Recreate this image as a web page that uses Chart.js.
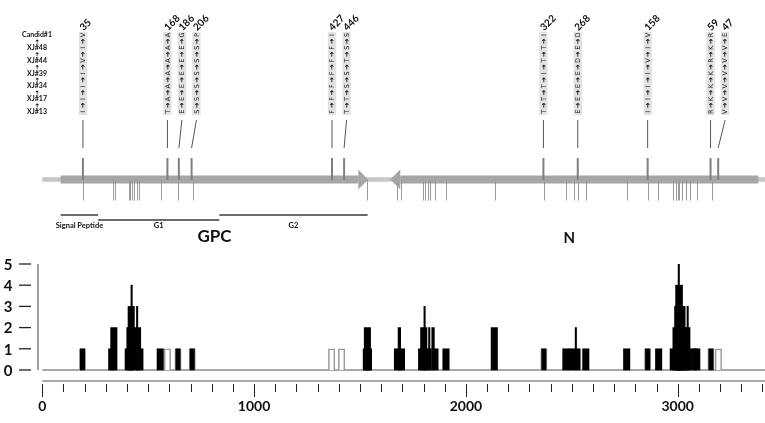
<!DOCTYPE html>
<html>
<head>
<meta charset="utf-8">
<script src="https://cdn.jsdelivr.net/npm/chart.js@4.4.1/dist/chart.umd.min.js"></script>
<style>
  html, body { margin: 0; padding: 0; background: #fff; }
</style>
</head>
<body>
<canvas id="myCanvas" width="765" height="423"></canvas>
<script>
// passage history, top to bottom
var strains = ['Candid#1', 'XJ#48', 'XJ#44', 'XJ#39', 'XJ#34', 'XJ#17', 'XJ#13'];

// S segment layout (nt)
var gpcSpan = [87, 1539];
var nSpan = [1643, 3381];
var gpcAa1 = 87;     // nt of GPC codon 1 (forward)
var nAa1 = 3332;     // nt of N codon 1 (reverse)
var domainNames = ['Signal Peptide', 'G1', 'G2'];
var domainFrom = [87, 264, 836];
var domainTo = [264, 836, 1536];

// labelled amino acid changes, residues from XJ#13 up to Candid#1
var gpcSites = [35, 168, 186, 206, 427, 446];
var gpcChanges = ['IIIIVIV', 'TAAAAAA', 'EEEEEEG', 'SSSSSSP', 'FFFFFFI', 'TTSSTSS'];
var nSites = [322, 268, 158, 59, 47];
var nChanges = ['TTTITTI', 'EEEEDED', 'IIIIVIV', 'RKKKRKR', 'VVVVVVE'];

// other mutation positions marked under the genes (nt)
var otherSites = [191, 335, 342, 408, 414, 422, 433, 446, 458, 559, 639, 713, 1532,
  1673, 1692, 1796, 1807, 1820, 1831, 1854, 1906, 2137, 2369, 2471, 2510, 2529, 2566,
  2759, 2861, 2909, 2979, 2991, 3000, 3008, 3019, 3039, 3058, 3090, 3161];

// histogram: number of isolates carrying a change at each position
var colPos = [328, 338, 406, 414, 420, 450, 461, 557, 1530, 1535, 1540, 1677, 1696, 1791, 1801,
  1821, 1854, 1906, 2134, 2472, 2501, 2566, 2759, 2910, 2979, 2992, 3000, 3005, 3011, 3020,
  3023, 3043, 3044, 3075, 3090];
var colCount = [1, 2, 1, 2, 3, 2, 1, 1, 1, 2, 1, 1, 1, 1, 2,
  1, 1, 1, 2, 1, 1, 1, 1, 1, 1, 2, 3, 4, 1, 3,
  2, 2, 1, 1, 1];
var innerPos = [190, 641, 708, 2368, 2528, 2858, 3157];
var innerCount = [1, 1, 1, 1, 1, 1, 1];
var openPos = [190, 591, 641, 708, 1366, 1413, 2368, 2528, 2858, 3157, 3192];
var openCount = [1, 1, 1, 1, 1, 1, 1, 1, 1, 1, 1];
var midPos = [1686, 1845];
var midCount = [2, 2];
var spikePos = [422, 448, 1805, 1827, 2519, 3005, 3019, 3047];
var spikeCount = [4, 3, 3, 2, 2, 5, 4, 3];

// axes
var yTicks = [0, 1, 2, 3, 4, 5];
var xLabels = [0, 1000, 2000, 3000];
var xMinorStep = 100, xTickEnd = 3400;

function pts(xs, ys) {
    return xs.map(function (v, i) { return { x: v, y: ys[i] }; });
}

function seg(ctx, x1, y1, x2, y2) {
    ctx.beginPath();
    ctx.moveTo(x1, y1);
    ctx.lineTo(x2, y2);
    ctx.stroke();
}

function rotText(ctx, s, px, py, angle) {
    ctx.save();
    ctx.translate(px, py);
    ctx.rotate(angle);
    ctx.fillText(s, 0, 0);
    ctx.restore();
}

// draws the labelled change columns for one gene
function drawSites(ctx, xs, sites, changes, toNt, rowY) {
    var order = sites.map(function (s, i) { return i; });
    order.sort(function (a, b) { return toNt(sites[a]) - toNt(sites[b]); });
    var prev = -999;
    order.forEach(function (i) {
        var tx = xs.getPixelForValue(toNt(sites[i]));
        var bx = Math.max(tx, prev + 14.5);
        prev = bx;

        // tick on the gene + connector
        ctx.strokeStyle = '#808080';
        ctx.lineWidth = 2;
        seg(ctx, tx, 158, tx, 180);
        ctx.strokeStyle = '#555';
        ctx.lineWidth = 1;
        seg(ctx, bx, 120, tx, 148);

        // box
        ctx.fillStyle = '#e2e2e2';
        ctx.fillRect(bx - 4.2, 32, 8.4, 83);

        // residues with arrows, bottom to top
        ctx.fillStyle = '#111';
        ctx.textAlign = 'center';
        ctx.textBaseline = 'middle';
        var res = changes[i];
        for (var k = 0; k < res.length; k++) {
            var ry = rowY[rowY.length - 1 - k];
            ctx.font = '6.5px "DejaVu Sans"';
            rotText(ctx, res[k], bx + 0.5, ry, -Math.PI / 2);
            if (k < res.length - 1) {
                ctx.font = 'bold 7px "DejaVu Sans"';
                rotText(ctx, '\u279C', bx + 0.5, ry - 6.4, -Math.PI / 2);
            }
        }

        // site number
        ctx.font = 'bold 10px Lato';
        ctx.textAlign = 'left';
        ctx.textBaseline = 'middle';
        rotText(ctx, String(sites[i]), bx - 1.5, 29, -Math.PI / 4);
    });
}

var genomeMap = {
    id: 'genomeMap',
    beforeDatasetsDraw: function (chart) {
        var ctx = chart.ctx, xs = chart.scales.x, ys = chart.scales.y;
        var area = chart.chartArea;
        ctx.save();
        ctx.strokeStyle = '#a8a8a8';
        ctx.lineWidth = 2;
        seg(ctx, xs.getPixelForValue(0), ys.getPixelForValue(0), area.right, ys.getPixelForValue(0));
        ctx.restore();
    },
    afterDraw: function (chart) {
        var ctx = chart.ctx, xs = chart.scales.x, ys = chart.scales.y;
        var area = chart.chartArea;
        var X = function (v) { return xs.getPixelForValue(v); };
        ctx.save();

        // ---- histogram axes ----
        ctx.strokeStyle = '#7f7f7f';
        ctx.lineWidth = 1.5;
        seg(ctx, area.left, ys.getPixelForValue(5), area.left, ys.getPixelForValue(0));
        ctx.fillStyle = '#111';
        ctx.font = 'bold 15px Lato';
        ctx.textAlign = 'center';
        ctx.textBaseline = 'middle';
        yTicks.forEach(function (v) {
            var py = ys.getPixelForValue(v);
            ctx.strokeStyle = '#222';
            ctx.lineWidth = 1.3;
            seg(ctx, 19, py, 31, py);
            ctx.fillText(String(v), 8, py + 1);
        });

        ctx.strokeStyle = '#a8a8a8';
        ctx.lineWidth = 2;
        seg(ctx, X(0), area.bottom, area.right, area.bottom);
        ctx.strokeStyle = '#222';
        ctx.lineWidth = 1;
        for (var t = 0; t <= xTickEnd; t += xMinorStep) {
            var major = xLabels.indexOf(t) >= 0;
            var px = Math.round(X(t)) + 0.5;
            seg(ctx, px, 384, px, major ? 397 : 392);
        }
        ctx.font = 'bold 14px Lato';
        xLabels.forEach(function (v) {
            ctx.fillText(String(v), X(v), 406);
        });

        // ---- genome map ----
        var gy = 179.5;
        ctx.strokeStyle = '#c6c6c6';
        ctx.lineWidth = 4.5;
        seg(ctx, X(0), gy, area.right, gy);

        ctx.fillStyle = '#a6a6a6';
        // GPC arrow (forward)
        var g0 = X(gpcSpan[0]), g1 = X(gpcSpan[1]);
        ctx.fillRect(g0, gy - 4, g1 - 10 - g0, 8);
        ctx.beginPath();
        ctx.moveTo(g1 - 10, gy - 10);
        ctx.lineTo(g1, gy);
        ctx.lineTo(g1 - 10, gy + 10);
        ctx.closePath();
        ctx.fill();
        // N arrow (reverse)
        var n0 = X(nSpan[0]), n1 = X(nSpan[1]);
        ctx.fillRect(n0 + 10, gy - 4, n1 - n0 - 10, 8);
        ctx.beginPath();
        ctx.moveTo(n0 + 10, gy - 10);
        ctx.lineTo(n0, gy);
        ctx.lineTo(n0 + 10, gy + 10);
        ctx.closePath();
        ctx.fill();

        // change marks under the genes
        ctx.strokeStyle = '#9a9a9a';
        ctx.lineWidth = 1;
        otherSites.forEach(function (v) {
            var px = Math.round(X(v)) + 0.5;
            seg(ctx, px, 180, px, 200.5);
        });

        // strain column
        var rowY = strains.map(function (s, i) { return 35 + i * 12.8; });
        ctx.fillStyle = '#111';
        ctx.textAlign = 'center';
        ctx.textBaseline = 'middle';
        strains.forEach(function (s, i) {
            ctx.font = 'bold 7px Lato';
            ctx.fillText(s, 37, rowY[i]);
            if (i < strains.length - 1) {
                ctx.font = 'bold 6px "DejaVu Sans"';
                rotText(ctx, '\u279C', 37, rowY[i] + 6.4, -Math.PI / 2);
            }
        });

        drawSites(ctx, xs, gpcSites, gpcChanges, function (aa) { return gpcAa1 + 3 * aa; }, rowY);
        drawSites(ctx, xs, nSites, nChanges, function (aa) { return nAa1 - 3 * aa; }, rowY);

        // GPC domains
        ctx.strokeStyle = '#3a3a3a';
        ctx.lineWidth = 1.5;
        ctx.fillStyle = '#111';
        ctx.font = 'bold 7.5px Lato';
        ctx.textAlign = 'center';
        domainNames.forEach(function (name, i) {
            var a = X(domainFrom[i]), b = X(domainTo[i]);
            var ly = (i % 2 === 1) ? 220 : 215;
            seg(ctx, a, ly, b, ly);
            ctx.fillText(name, (a + b) / 2, 226);
        });

        ctx.font = 'bold 17px Lato';
        ctx.fillText('GPC', X((gpcSpan[0] + gpcSpan[1]) / 2), 237);
        ctx.font = 'bold 15px Lato';
        ctx.fillText('N', X((nSpan[0] + nAa1) / 2), 238);

        ctx.restore();
    }
};

var ctx = document.getElementById('myCanvas').getContext('2d');
var myChart = new Chart(ctx, {
    type: 'bar',
    data: {
        datasets: [{
            label: 'spikes',
            data: pts(spikePos, spikeCount),
            backgroundColor: '#000',
            barThickness: 1.4,
            grouped: false,
            order: 0
        }, {
            label: 'narrow',
            data: pts(midPos, midCount),
            backgroundColor: '#000',
            barThickness: 2.6,
            grouped: false,
            order: 0
        }, {
            label: 'columns',
            data: pts(colPos, colCount),
            backgroundColor: '#000',
            barThickness: 6.4,
            grouped: false,
            order: 1
        }, {
            label: 'inner',
            data: pts(innerPos, innerCount),
            backgroundColor: '#000',
            barThickness: 4.4,
            grouped: false,
            order: 1
        }, {
            label: 'open',
            data: pts(openPos, openCount),
            backgroundColor: '#fff',
            borderColor: '#9a9a9a',
            borderWidth: 1.5,
            barThickness: 6.4,
            grouped: false,
            order: 2
        }]
    },
    options: {
        responsive: false,
        animation: false,
        devicePixelRatio: 1,
        layout: { padding: { left: 38, right: 0, top: 264, bottom: 42 } },
        scales: {
            x: { type: 'linear', min: -20, max: 3412, offset: false, display: false },
            y: { min: -0.52, max: 5, display: false }
        },
        plugins: {
            legend: { display: false },
            tooltip: { enabled: false }
        }
    },
    plugins: [genomeMap]
});
</script>
</body>
</html>
